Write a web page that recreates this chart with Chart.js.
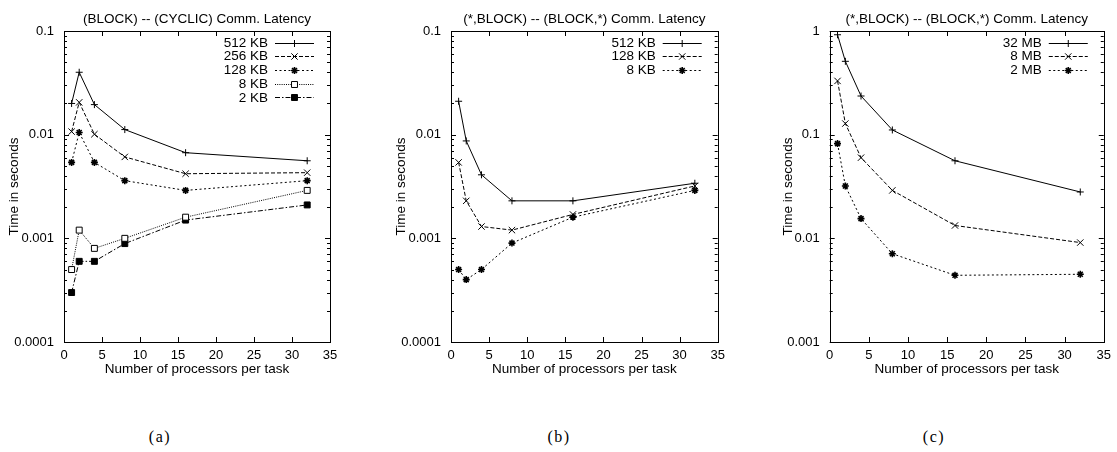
<!DOCTYPE html>
<html>
<head>
<meta charset="utf-8">
<script src="https://cdn.jsdelivr.net/npm/chart.js@4/dist/chart.umd.min.js"></script>
<style>
html,body{margin:0;padding:0;background:#fff;}
body{width:1117px;height:452px;position:relative;overflow:hidden;}
canvas{position:absolute;top:0;}
.cap{position:absolute;top:428px;font-family:"Liberation Serif","DejaVu Serif",serif;font-size:16px;letter-spacing:1.5px;color:#000;transform:translateX(-50%);}
</style>
</head>
<body>
<canvas id="ca" width="372" height="380" style="left:0px"></canvas>
<canvas id="cb" width="372" height="380" style="left:372px"></canvas>
<canvas id="cc" width="373" height="380" style="left:744px"></canvas>
<div class="cap" style="left:160px">(a)</div>
<div class="cap" style="left:559px">(b)</div>
<div class="cap" style="left:934px">(c)</div>
<script>
// ---- data ----
const procs = [1, 2, 4, 8, 16, 32];
const xTicks = [0, 5, 10, 15, 20, 25, 30, 35];

const titleA = "(BLOCK) -- (CYCLIC) Comm. Latency";
const labelsA = ["512 KB", "256 KB", "128 KB", "8 KB", "2 KB"];
const a512 = [0.020, 0.040, 0.0195, 0.0112, 0.0067, 0.0056];
const a256 = [0.0107, 0.0205, 0.0101, 0.0061, 0.0042, 0.0043];
const a128 = [0.0054, 0.0105, 0.0054, 0.0036, 0.0029, 0.0036];
const a8   = [0.0005, 0.0012, 0.0008, 0.0010, 0.0016, 0.0029];
const a2   = [0.0003, 0.0006, 0.0006, 0.00089, 0.0015, 0.0021];
const yTicksA = ["0.0001", "0.001", "0.01", "0.1"];

const titleB = "(*,BLOCK) -- (BLOCK,*) Comm. Latency";
const labelsB = ["512 KB", "128 KB", "8 KB"];
const b512 = [0.021, 0.0087, 0.0041, 0.0023, 0.0023, 0.0034];
const b128 = [0.0054, 0.0023, 0.0013, 0.0012, 0.0017, 0.0032];
const b8   = [0.0005, 0.0004, 0.0005, 0.0009, 0.0016, 0.0029];
const yTicksB = ["0.0001", "0.001", "0.01", "0.1"];

const titleC = "(*,BLOCK) -- (BLOCK,*) Comm. Latency";
const labelsC = ["32 MB", "8 MB", "2 MB"];
const c32 = [0.92, 0.51, 0.236, 0.111, 0.056, 0.028];
const c8  = [0.33, 0.128, 0.060, 0.029, 0.0133, 0.0091];
const c2  = [0.082, 0.032, 0.0155, 0.0071, 0.0044, 0.0045];
const yTicksC = ["0.001", "0.01", "0.1", "1"];

const xTitle = "Number of processors per task";
const yTitle = "Time in seconds";

// ---- styles ----
const FONT = "'Liberation Sans', Arial, Helvetica, sans-serif";
const styles = [
  {dash: [], pointStyle: 'cross', radius: 3.5, bg: '#000', bw: 1},
  {dash: [4, 2], pointStyle: 'crossRot', radius: 4.5, bg: '#000', bw: 1},
  {dash: [2, 2.5], pointStyle: 'star', radius: 3.5, bg: '#000', bw: 1.6},
  {dash: [1, 1.2], pointStyle: 'rect', radius: 4.2, bg: '#fff', bw: 1},
  {dash: [5, 2, 1.5, 2], pointStyle: 'rect', radius: 4.2, bg: '#000', bw: 1}
];

function mkDatasets(labels, series) {
  return series.map((vals, i) => {
    const s = styles[i];
    return {
      label: labels[i],
      data: procs.map((p, j) => ({x: p, y: vals[j]})),
      borderColor: '#000',
      backgroundColor: s.bg,
      borderWidth: 1,
      borderDash: s.dash,
      pointStyle: s.pointStyle,
      pointRadius: s.radius,
      pointBorderWidth: s.bw,
      pointBorderColor: '#000',
      pointBackgroundColor: s.bg,
      tension: 0,
      fill: false
    };
  });
}

const framePlugin = {
  id: 'frame',
  afterDraw(chart) {
    const ctx = chart.ctx, a = chart.chartArea;
    const xs = chart.scales.x, ys = chart.scales.y;
    const o = chart.options.plugins.frame;
    ctx.save();
    ctx.strokeStyle = '#000';
    ctx.lineWidth = 1;
    ctx.setLineDash([]);
    ctx.strokeRect(Math.round(a.left) + 0.5, Math.round(a.top) + 0.5, Math.round(a.right - a.left), Math.round(a.bottom - a.top));
    ctx.beginPath();
    xTicks.forEach(v => {
      const px = Math.round(xs.getPixelForValue(v)) + 0.5;
      ctx.moveTo(px, a.bottom); ctx.lineTo(px, a.bottom - 5);
      ctx.moveTo(px, a.top); ctx.lineTo(px, a.top + 5);
    });
    const lo = Math.round(Math.log10(ys.min)), hi = Math.round(Math.log10(ys.max));
    for (let e = lo; e <= hi; e++) {
      for (let m = 1; m <= 9; m++) {
        const v = m * Math.pow(10, e);
        if (v > ys.max * 1.0001) break;
        const len = m === 1 ? 5 : 3;
        const py = Math.round(ys.getPixelForValue(v)) + 0.5;
        ctx.moveTo(a.left, py); ctx.lineTo(a.left + len, py);
        ctx.moveTo(a.right, py); ctx.lineTo(a.right - len, py);
      }
    }
    ctx.stroke();
    // title
    ctx.fillStyle = '#000';
    ctx.font = '13.5px ' + FONT;
    ctx.textAlign = 'center';
    ctx.textBaseline = 'middle';
    ctx.fillText(o.title, (a.left + a.right) / 2, 19);
    // legend
    const lineEnd = a.right - 16, lineStart = lineEnd - 39, textEnd = lineStart - 7;
    chart.data.datasets.forEach((ds, i) => {
      const y = a.top + 11.5 + i * 13.7;
      ctx.fillStyle = '#000';
      ctx.textAlign = 'right';
      ctx.fillText(ds.label, textEnd, y + 0.5);
      ctx.beginPath();
      ctx.setLineDash(ds.borderDash);
      ctx.strokeStyle = '#000';
      ctx.lineWidth = 1;
      ctx.moveTo(lineStart, Math.round(y) + 0.5);
      ctx.lineTo(lineEnd, Math.round(y) + 0.5);
      ctx.stroke();
      ctx.setLineDash([]);
      ctx.fillStyle = ds.pointBackgroundColor;
      ctx.strokeStyle = '#000';
      ctx.lineWidth = ds.pointBorderWidth;
      Chart.helpers.drawPoint(ctx, {pointStyle: ds.pointStyle, radius: ds.pointRadius, rotation: 0, borderWidth: ds.pointBorderWidth}, (lineStart + lineEnd) / 2, Math.round(y) + 0.5);
    });
    ctx.restore();
  }
};

function makeChart(id, cfg) {
  const W = document.getElementById(id).width;
  const ymin = Number(cfg.yLabels[0]), ymax = Number(cfg.yLabels[cfg.yLabels.length - 1]);
  return new Chart(document.getElementById(id), {
    type: 'line',
    data: {datasets: mkDatasets(cfg.labels, cfg.series)},
    plugins: [framePlugin],
    options: {
      responsive: false,
      animation: false,
      devicePixelRatio: 1,
      layout: {padding: {left: 0, right: W - cfg.plotR, top: 31, bottom: 0}},
      plugins: {
        legend: {display: false},
        tooltip: {enabled: false},
        title: {display: false},
        frame: {title: cfg.title}
      },
      scales: {
        x: {
          type: 'linear', min: 0, max: 35,
          afterBuildTicks: s => { s.ticks = xTicks.map(v => ({value: v})); },
          afterFit: s => { s.height = 38; },
          grid: {display: false, drawTicks: false},
          border: {display: false},
          ticks: {color: '#000', font: {family: FONT, size: 13}, padding: 6, maxRotation: 0, autoSkip: false},
          title: {display: true, text: xTitle, color: '#000', font: {family: FONT, size: 13.5}, padding: {top: 0, bottom: 3}}
        },
        y: {
          type: 'logarithmic', min: ymin, max: ymax,
          afterBuildTicks: s => { s.ticks = cfg.yLabels.map(t => ({value: Number(t)})); },
          afterFit: s => { s.width = cfg.plotL; },
          grid: {display: false, drawTicks: false},
          border: {display: false},
          ticks: {
            color: '#000', font: {family: FONT, size: 13}, padding: 10, autoSkip: false,
            callback: (v) => {
              const idx = cfg.yLabels.findIndex(t => Math.abs(Math.log10(Number(t)) - Math.log10(v)) < 1e-6);
              return idx >= 0 ? cfg.yLabels[idx] : '';
            }
          },
          title: {display: true, text: yTitle, color: '#000', font: {family: FONT, size: 13.5}, padding: {top: cfg.yTitlePad, bottom: 0}}
        }
      }
    }
  });
}

makeChart('ca', {title: titleA, labels: labelsA, series: [a512, a256, a128, a8, a2], yLabels: yTicksA, plotL: 64, plotR: 330, yTitlePad: 6});
makeChart('cb', {title: titleB, labels: labelsB, series: [b512, b128, b8], yLabels: yTicksB, plotL: 79, plotR: 345.7, yTitlePad: 21});
makeChart('cc', {title: titleC, labels: labelsC, series: [c32, c8, c2], yLabels: yTicksC, plotL: 85.7, plotR: 360, yTitlePad: 36});
</script>
</body>
</html>
